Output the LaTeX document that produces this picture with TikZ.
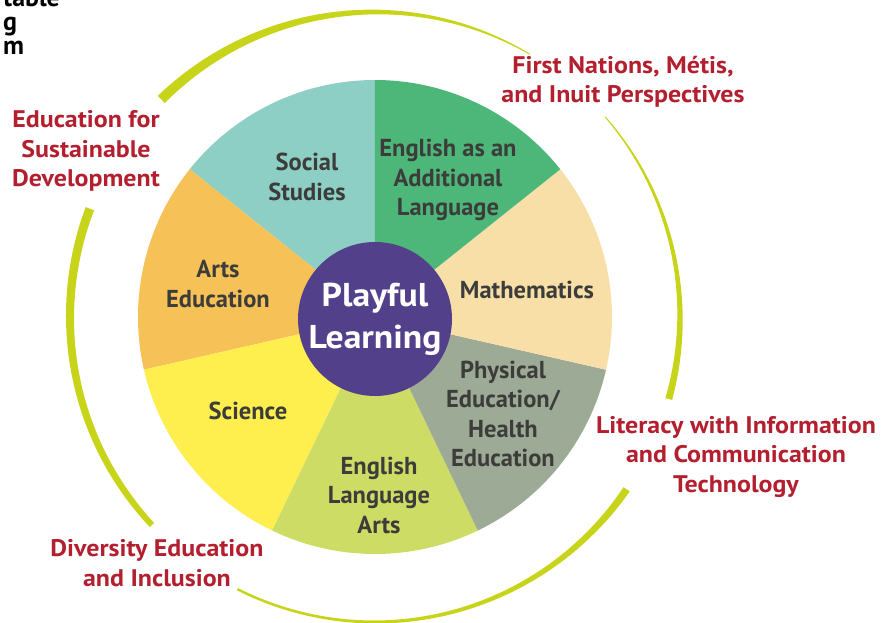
\documentclass[tikz,border=0pt]{standalone}
\usepackage{fontspec}
\setmainfont{PT Sans}
\newfontfamily\widesans[FakeStretch=1.08]{PT Sans}

\definecolor{socialC}{HTML}{8DCFC4}
\definecolor{ealC}{HTML}{4DB679}
\definecolor{mathC}{HTML}{F8DFA8}
\definecolor{physC}{HTML}{9DAA95}
\definecolor{elaC}{HTML}{CDDC64}
\definecolor{sciC}{HTML}{FEEF4E}
\definecolor{artsC}{HTML}{F6C257}
\definecolor{hubC}{HTML}{52418A}
\definecolor{ringC}{HTML}{C8D41A}
\definecolor{persC}{HTML}{B31F2E}
\definecolor{subjC}{HTML}{3C3C3B}

\tikzset{
  subject/.style={align=center, text=subjC, inner sep=0pt,
    font=\fontsize{24.5}{29.5}\selectfont\bfseries},
  persp/.style={align=center, text=persC, inner sep=0pt,
    font=\widesans\fontsize{24}{29.5}\selectfont\bfseries},
  hub/.style={circle, fill=hubC, minimum size=154pt, inner sep=0pt,
    align=center, text=white, font=\widesans\fontsize{33}{42}\selectfont\bfseries},
  corner/.style={align=left, text=black, inner sep=0pt,
    font=\fontsize{26}{24}\selectfont\bfseries}
}

% tapered ring piece: from angle, to angle, width at start, width at end, power
\newcommand\ringarc[5]{%
  \fill[ringC] plot[domain=#1:#2, samples=90]
      (\x:{305+(#3+(#4-#3)*((\x-#1)/(#2-#1))^#5)/2})
    -- plot[domain=#2:#1, samples=90]
      (\x:{305-(#3+(#4-#3)*((\x-#1)/(#2-#1))^#5)/2}) -- cycle;}

\begin{document}
\begin{tikzpicture}[x=1pt, y=1pt]
    \useasboundingbox (-375,-306) rectangle (509,317);

    % seven subject sectors, counter-clockwise from the top
    \foreach \col [count=\i from 0] in {socialC,artsC,sciC,elaC,physC,mathC,ealC}
      \fill[\col] (0,0) -- ({90+\i*360/7}:237) arc[start angle={90+\i*360/7},
        delta angle={360/7}, radius=237] -- cycle;

    \node[hub] (hub) at (0,-2) {Playful\\Learning};

    \node[subject] (social) at (-68,140)  {Social\\Studies};
    \node[subject] (eal)    at (73,137)   {English as an\\Additional\\Language};
    \node[subject] (math)   at (152,27)   {Mathematics};
    \node[subject] (phys)   at (128,-97)  {Physical\\Education/\\Health\\Education};
    \node[subject] (ela)    at (4,-178)   {English\\Language\\Arts};
    \node[subject] (sci)    at (-127,-94) {Science};
    \node[subject] (arts)   at (-157,33)  {Arts\\Education};

    % outer ring
    \ringarc{134.5}{59.5}{10}{1}{1}
    \ringarc{41}{-15.6}{1}{7}{1}
    \ringarc{-116.8}{-34.4}{2.5}{7.5}{2}
    \ringarc{159.2}{223}{9}{6}{1}

    \node[persp] (esd)  at (-289,166)  {Education for\\Sustainable\\Development};
    \node[persp] (fnmi) at (248,235)   {First Nations, Métis,\\and Inuit Perspectives};
    \node[persp] (lict) at (361,-140)  {Literacy with Information\\and Communication\\Technology};
    \node[persp] (div)  at (-218,-246) {Diversity Education\\and Inclusion};

    \node[corner, anchor=south west] (clip) at (-372,262) {table\\g\\m};
\end{tikzpicture}
\end{document}
